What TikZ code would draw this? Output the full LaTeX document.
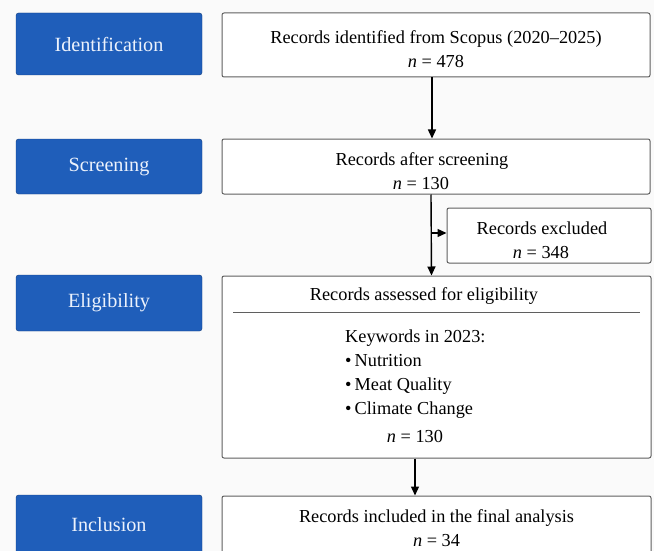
\documentclass[tikz,border=0pt]{standalone}
\usepackage{fontspec}
\setmainfont{Liberation Serif}
\usetikzlibrary{arrows.meta,positioning}

\definecolor{stageblue}{RGB}{31,94,186}
\definecolor{stageedge}{RGB}{22,62,128}
\definecolor{stagetext}{RGB}{236,242,252}
\definecolor{boxedge}{RGB}{95,95,95}
\definecolor{pagebg}{RGB}{250,250,250}

\newcommand{\toppad}{\rule{0pt}{21.5pt}}

\tikzset{
  stagebox/.style={draw=stageedge, fill=stageblue, rounded corners=2.5pt,
    minimum width=186pt, text=stagetext, font=\fontsize{20.2}{24}\selectfont},
  recbox/.style={draw=boxedge, line width=1pt, fill=white, rounded corners=2pt,
    align=center, font=\fontsize{18.3}{24}\selectfont},
  flow/.style={line width=1.4pt, -{Triangle[length=9pt,width=8pt]}}
}

\begin{document}
\begin{tikzpicture}[x=1pt,y=-1pt]
  % page
  \fill[pagebg] (0,0) rectangle (654,551);
  \useasboundingbox (0,0) rectangle (654,551);
  \clip (0,0) rectangle (654,551);

  % stage labels
  \node[stagebox, minimum height=62pt] (identif) at (109,44) {Identification};
  \node[stagebox, minimum height=55pt] (screen) at (109,166.5) {Screening};
  \node[stagebox, minimum height=56pt] (eligib) at (109,303) {Eligibility};
  \node[stagebox, minimum height=60pt] (inclus) at (109,525) {Inclusion};

  % record boxes
  \node[recbox, minimum width=428pt, minimum height=64pt] (found) at (436,45)
    {\toppad Records identified from Scopus (2020--2025)\\ \textit{n} = 478};
  \node[recbox, minimum width=428pt, minimum height=55pt] (kept) at (436,166.5)
    {\toppad\hspace*{-28pt}Records after screening\\ \hspace*{-30pt}\textit{n} = 130};
  \node[recbox, minimum width=204pt, minimum height=55pt] (dropped) at (549,235.5)
    {\toppad\hspace*{-14pt}Records excluded\\ \hspace*{-16pt}\textit{n} = 348};
  \node[recbox, minimum width=429pt, minimum height=182pt] (assess) at (436.5,367) {};
  \node[recbox, minimum width=429pt, minimum height=64pt] (final) at (436.5,528)
    {Records included in the final analysis\\ \textit{n} = 34};

  % inside the eligibility box
  \node[font=\fontsize{18.3}{24}\selectfont] (assesstitle) at (424,296)
    {Records assessed for eligibility};
  \coordinate (ruleL) at (233,312);
  \coordinate (ruleR) at (640,312);
  \draw[boxedge, line width=1pt] (ruleL) -- (ruleR);
  \node[anchor=north west, align=left, inner sep=0pt,
        font=\fontsize{18.3}{24}\selectfont] (keywords) at (345,330)
    {Keywords in 2023:\\ \textbullet\,Nutrition\\ \textbullet\,Meat Quality\\ \textbullet\,Climate Change};
  \node[font=\fontsize{18.3}{24}\selectfont] (assessn) at (415,437) {\textit{n} = 130};

  % connectors
  \draw[flow] ([xshift=-4pt]found.south) -- ([xshift=-4pt]kept.north);
  \draw[flow] ([xshift=-5pt]kept.south) -- ([xshift=-5pt]assess.north);
  \coordinate (split) at (431,233);
  \draw[flow] (split) -- (split -| dropped.west);
  \draw[flow] ([xshift=-21.5pt]assess.south) -- ([xshift=-21.5pt]final.north);
\end{tikzpicture}
\end{document}
